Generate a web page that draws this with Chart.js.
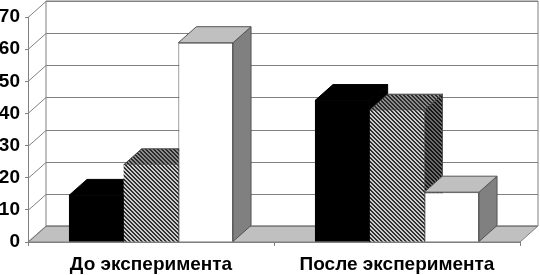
<!DOCTYPE html>
<html>
<head>
<meta charset="utf-8">
<script src="https://cdn.jsdelivr.net/npm/chart.js@4"></script>
<style>
  body { margin: 0; background: #fff; }
  canvas { display: block; }
</style>
</head>
<body>
<canvas id="chart" width="540" height="275"></canvas>
<script>
const categories = ['До эксперимента', 'После эксперимента'];
const seriesBlack = [14.5, 44];
const seriesHatched = [24, 41];
const seriesWhite = [62, 15.5];
const yTicks = [0, 10, 20, 30, 40, 50, 60, 70];

// depth of the fake 3d box
const depthX = 18;
const depthY = 16;

function hatch(dark, light) {
  const size = 4;
  const c = document.createElement('canvas');
  c.width = size;
  c.height = size;
  const g = c.getContext('2d');
  g.fillStyle = light;
  g.fillRect(0, 0, size, size);
  g.fillStyle = dark;
  // stripes running down to the right
  for (let i = 0; i < size; i++) {
    g.fillRect(i, i, 1, 1);
    g.fillRect((i + 1) % size, i, 1, 1);
  }
  return g.createPattern(c, 'repeat');
}

const hatchFront = hatch('#303030', '#cccccc');
const hatchTop = hatch('#2a2a2a', '#8c8c8c');
const hatchSide = hatch('#151515', '#6a6a6a');

const seriesColors = [
  { front: '#000000', top: '#000000', side: '#000000', border: '#000000' },
  { front: hatchFront, top: hatchTop, side: hatchSide, border: '#444444' },
  { front: '#ffffff', top: '#c0c0c0', side: '#808080', border: '#555555' }
];

function poly(ctx, pts, fill, stroke) {
  ctx.beginPath();
  pts.forEach((p, i) => (i ? ctx.lineTo(p[0], p[1]) : ctx.moveTo(p[0], p[1])));
  ctx.closePath();
  if (fill) {
    ctx.fillStyle = fill;
    ctx.fill();
  }
  if (stroke) {
    ctx.strokeStyle = stroke;
    ctx.lineWidth = 1;
    ctx.stroke();
  }
}

// walls, floor and gridlines, then the sides and tops of the bars
const box3d = {
  id: 'box3d',
  beforeDatasetsDraw(chart) {
    const ctx = chart.ctx;
    const area = chart.chartArea;
    const y = chart.scales.y;
    const left = area.left;
    const right = area.right;
    const zero = y.getPixelForValue(0);
    const top = y.getPixelForValue(70);
    const grey = '#808080';

    ctx.save();
    poly(ctx, [[left + depthX, top - depthY], [right + depthX, top - depthY], [right + depthX, zero - depthY], [left + depthX, zero - depthY]], '#ffffff', grey);
    poly(ctx, [[left, zero], [left + depthX, zero - depthY], [right + depthX, zero - depthY], [right, zero]], '#c0c0c0', grey);

    ctx.strokeStyle = grey;
    ctx.lineWidth = 1;
    yTicks.forEach(v => {
      const py = Math.round(y.getPixelForValue(v)) + 0.5;
      ctx.beginPath();
      ctx.moveTo(left, py);
      ctx.lineTo(left + depthX, py - depthY);
      ctx.lineTo(right + depthX, py - depthY);
      ctx.stroke();
    });

    for (let i = 0; i < categories.length; i++) {
      chart.data.datasets.forEach((ds, d) => {
        const bar = chart.getDatasetMeta(d).data[i];
        const c = seriesColors[d];
        const x0 = bar.x - bar.width / 2;
        const x1 = bar.x + bar.width / 2;
        poly(ctx, [[x1, bar.y], [x1 + depthX, bar.y - depthY], [x1 + depthX, bar.base - depthY], [x1, bar.base]], c.side, c.border);
        poly(ctx, [[x0, bar.y], [x0 + depthX, bar.y - depthY], [x1 + depthX, bar.y - depthY], [x1, bar.y]], c.top, c.border);
      });
    }
    ctx.restore();
  }
};

new Chart(document.getElementById('chart'), {
  type: 'bar',
  data: {
    labels: categories,
    datasets: [
      { data: seriesBlack, backgroundColor: seriesColors[0].front, borderWidth: 0 },
      { data: seriesHatched, backgroundColor: seriesColors[1].front, borderWidth: 0 },
      { data: seriesWhite, backgroundColor: seriesColors[2].front, borderColor: seriesColors[2].border, borderWidth: 1 }
    ]
  },
  plugins: [box3d],
  options: {
    responsive: false,
    animation: false,
    layout: { padding: { top: 17, right: 20 } },
    plugins: { legend: { display: false }, tooltip: { enabled: false } },
    datasets: { bar: { categoryPercentage: 0.667, barPercentage: 1 } },
    scales: {
      x: {
        afterFit(scale) { scale.height = 33; },
        border: { color: '#808080' },
        grid: { drawOnChartArea: false, color: '#808080', tickLength: 4 },
        ticks: {
          color: '#000000',
          padding: 7,
          maxRotation: 0,
          font: { family: 'Liberation Sans', size: 19, weight: 'bold' }
        }
      },
      y: {
        min: 0,
        max: 70,
        afterFit(scale) { scale.width = 28; },
        border: { color: '#808080' },
        grid: { drawOnChartArea: false, color: '#808080', tickLength: 3 },
        ticks: {
          stepSize: 10,
          color: '#000000',
          padding: 5,
          font: { family: 'Liberation Sans', size: 19, weight: 'bold' }
        }
      }
    }
  }
});
</script>
</body>
</html>
